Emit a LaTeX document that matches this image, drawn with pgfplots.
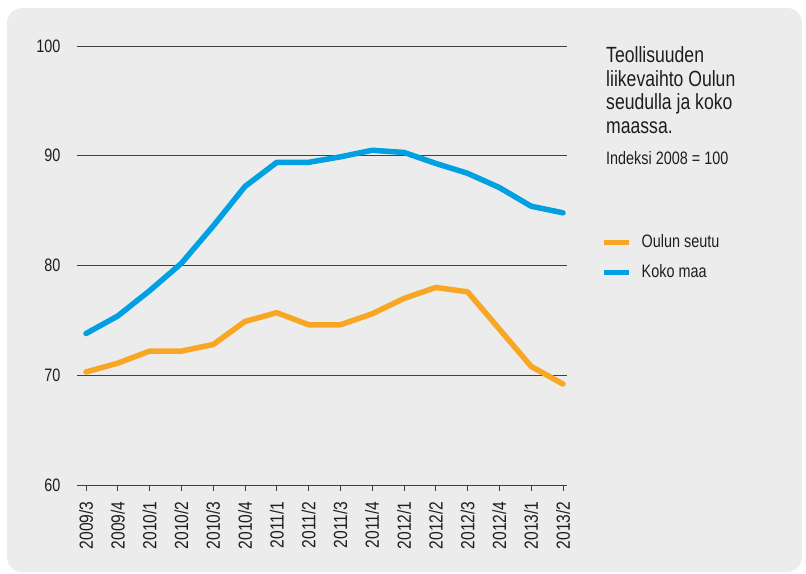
\documentclass[border=0pt]{standalone}
\usepackage{fontspec}
\setmainfont[FakeStretch=0.8]{Liberation Sans}
\newfontfamily\labx[FakeStretch=0.82]{Liberation Sans}
\usepackage{pgfplots}
\usepackage{pgfplotstable}
\pgfplotsset{compat=1.18}
\definecolor{bg}{HTML}{ECECEC}
\definecolor{oulu}{HTML}{F8A724}
\definecolor{koko}{HTML}{00A0E3}
\definecolor{txt}{HTML}{1E1E1E}
\newcommand{\lab}{\fontsize{18bp}{21bp}\selectfont}
\newcommand{\xlab}{\labx\fontsize{19bp}{21bp}\selectfont}
\newcommand{\ttl}{\fontsize{22bp}{24bp}\selectfont}

% quarter index, Oulun seutu, Koko maa (2008 = 100)
\pgfplotstableread{
x oulu koko
0  70.3 73.8
1  71.1 75.4
2  72.2 77.7
3  72.2 80.2
4  72.8 83.6
5  74.9 87.2
6  75.7 89.4
7  74.6 89.4
8  74.6 89.9
9  75.6 90.5
10 77.0 90.3
11 78.0 89.3
12 77.6 88.4
13 74.2 87.1
14 70.8 85.4
15 69.2 84.8
}\data

\begin{document}
\begin{tikzpicture}
\useasboundingbox (0,0) rectangle (806bp,574bp);
\fill[white] (0,0) rectangle (806bp,574bp);
\fill[bg, rounded corners=15bp] (7bp,2bp) rectangle (802bp,566bp);
\begin{axis}[
    at={(77bp,89bp)}, anchor=south west,
    scale only axis, width=490bp, height=439bp,
    xmin=-0.283, xmax=15.126, ymin=60, ymax=100,
    clip=false,
    axis line style={draw=none},
    ymajorgrids, grid style={black!75, line width=0.9bp},
    ytick={60,70,80,90,100},
    ytick style={draw=none},
    xtick={0,...,15},
    xticklabels={2009/3,2009/4,2010/1,2010/2,2010/3,2010/4,2011/1,2011/2,2011/3,2011/4,2012/1,2012/2,2012/3,2012/4,2013/1,2013/2},
    xtick pos=bottom,
    tick align=outside, major tick length=6bp,
    xtick style={black!75, line width=0.9bp},
    xticklabel style={rotate=90, anchor=east, font=\xlab, text=txt, xshift=-7bp},
    yticklabel style={font=\lab, text=txt, xshift=-7bp},
    /pgf/number format/assume math mode=true,
    legend style={at={(1.0694,0.5718)}, anchor=north west, draw=none, fill=none,
        inner sep=0pt, font=\lab, text=txt, row sep=13bp,
        nodes={inner sep=0pt, text height=13bp, text depth=4bp},
        /tikz/every odd column/.style={column sep=10bp}},
    legend cell align=left,
    legend image code/.code={\draw[#1, line cap=butt] (0bp,0bp) -- (25bp,0bp);},
]
\addplot[oulu, line width=5.5bp, line join=round, line cap=round] table[x=x, y=oulu] {\data};
\addlegendentry{Oulun seutu}
\addplot[koko, line width=5.5bp, line join=round, line cap=round] table[x=x, y=koko] {\data};
\addlegendentry{Koko maa}
\end{axis}
\begin{scope}[every node/.style={anchor=base west, inner sep=0pt, text=txt}]
\node[font=\ttl] at (606bp,511.3bp) {Teollisuuden};
\node[font=\ttl] at (606bp,487.7bp) {liikevaihto Oulun};
\node[font=\ttl] at (606bp,464bp) {seudulla ja koko};
\node[font=\ttl] at (606bp,440.4bp) {maassa.};
\node[font=\lab] at (606bp,409bp) {Indeksi 2008 = 100};
\end{scope}
\end{tikzpicture}
\end{document}
